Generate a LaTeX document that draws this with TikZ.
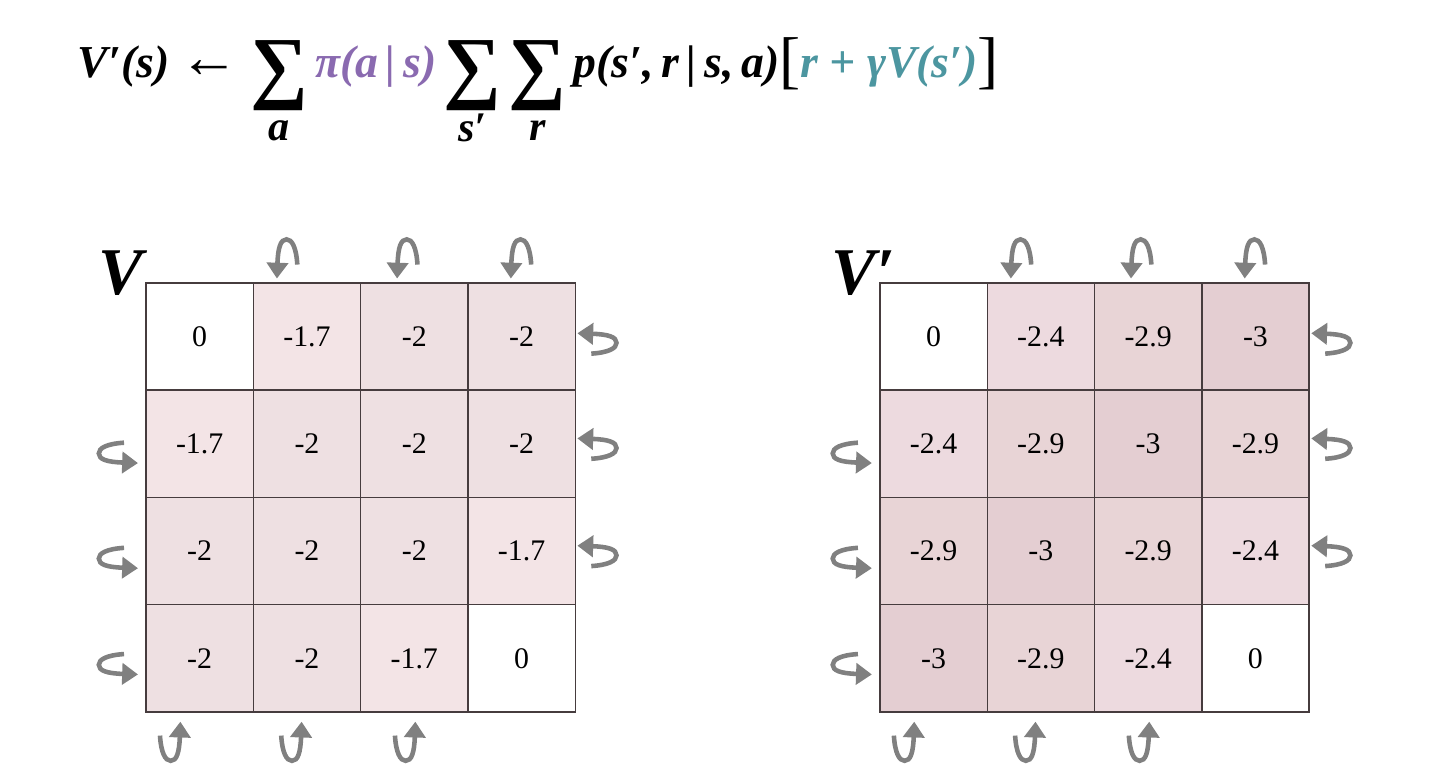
\documentclass[tikz,border=0pt]{standalone}
\usepackage{fontspec}
\setmainfont{Liberation Serif}
\usetikzlibrary{arrows.meta}

\definecolor{policy}{RGB}{138,106,176}
\definecolor{target}{RGB}{76,150,160}
\definecolor{gridline}{RGB}{70,60,62}
\definecolor{loopgray}{RGB}{128,128,128}
\definecolor{tintA}{RGB}{243,228,230}
\definecolor{tintB}{RGB}{238,224,226}
\definecolor{tintC}{RGB}{237,218,223}
\definecolor{tintD}{RGB}{232,212,214}
\definecolor{tintE}{RGB}{228,206,210}

\newcommand{\bigsum}[1]{\mathop{\lower5pt\hbox{$\vcenter{\hbox{\fontsize{46}{46}\selectfont ∑}}$}}\limits_{\hbox{\fontsize{24}{24}\selectfont\vrule width 0pt height 15pt\relax #1}}}
\newcommand{\thinbrack}[1]{\raisebox{-2pt}{\fontsize{36}{36}\selectfont\mdseries\upshape #1}}

\tikzset{
  cell/.style={draw=gridline,line width=0.8pt,minimum size=2.146cm,inner sep=0pt,
    font=\fontsize{17}{20}\selectfont},
  gridname/.style={anchor=base west,font=\fontsize{38}{40}\selectfont\bfseries\itshape},
  loopline/.style={draw=loopgray,line width=2.6pt,
    -{Triangle[length=9pt,width=12pt,fill=loopgray]}},
  uturn/.pic={
    \draw[loopline] (0.19,0.13) .. controls (0.18,0.29) and (0.14,0.365) .. (0.09,0.365)
      .. controls (0.035,0.365) and (0.01,0.29) .. (0,0);
  },
}

\begin{document}
\begin{tikzpicture}[x=2.146cm,y=2.146cm]
    \useasboundingbox (-1.361,-0.569) rectangle (12.060,6.636);

    % update rule
    \node[anchor=base west,inner sep=0pt,font=\fontsize{26}{32}\selectfont\bfseries\itshape] (bellman) at (-0.64,5.909)
        {$\hbox{V′(s)\hskip6pt{\fontsize{34}{34}\selectfont ←}\hskip2pt}\bigsum{a}\hbox{\color{policy}π(a\,|\,s)}\bigsum{s′}\bigsum{r}\hbox{p(s′,\,r\,|\,s,\,a)}%
          \thinbrack{[}\hbox{\color{target}r + γV(s′)}\thinbrack{]}$};

    % old values
    \foreach \val/\tint [count=\k from 0] in {0/white,-1.7/tintA,-2/tintB,-2/tintB,
        -1.7/tintA,-2/tintB,-2/tintB,-2/tintB,
        -2/tintB,-2/tintB,-2/tintB,-1.7/tintA,
        -2/tintB,-2/tintB,-1.7/tintA,0/white}{
        \pgfmathtruncatemacro{\row}{div(\k,4)}
        \pgfmathtruncatemacro{\col}{mod(\k,4)}
        \node[cell,fill=\tint] (v\row\col) at (\col+0.5,3.5-\row) {\val};
    }

    % new values
    \foreach \val/\tint [count=\k from 0] in {0/white,-2.4/tintC,-2.9/tintD,-3/tintE,
        -2.4/tintC,-2.9/tintD,-3/tintE,-2.9/tintD,
        -2.9/tintD,-3/tintE,-2.9/tintD,-2.4/tintC,
        -3/tintE,-2.9/tintD,-2.4/tintC,0/white}{
        \pgfmathtruncatemacro{\row}{div(\k,4)}
        \pgfmathtruncatemacro{\col}{mod(\k,4)}
        \node[cell,fill=\tint] (w\row\col) at (\col+7.34,3.5-\row) {\val};
    }

    \node[gridname] (vlabel) at (-0.505,3.89) {V};
    \node[gridname] (wlabel) at (6.335,3.89) {V′};

    % moves that hit the wall
    \foreach \dx in {0,6.84}{
        \foreach \xx in {1.22,2.34,3.40}
            \pic at (\xx+\dx,4.04) {uturn};
        \foreach \yy in {3.53,2.55,1.55}
            \pic[rotate=-90] at (4.02+\dx,\yy) {uturn};
        \foreach \yy in {2.32,1.34,0.35}
            \pic[rotate=90] at (-0.075+\dx,\yy) {uturn};
        \foreach \xx in {0.32,1.45,2.51}
            \pic[rotate=180] at (\xx+\dx,-0.09) {uturn};
    }
\end{tikzpicture}
\end{document}
